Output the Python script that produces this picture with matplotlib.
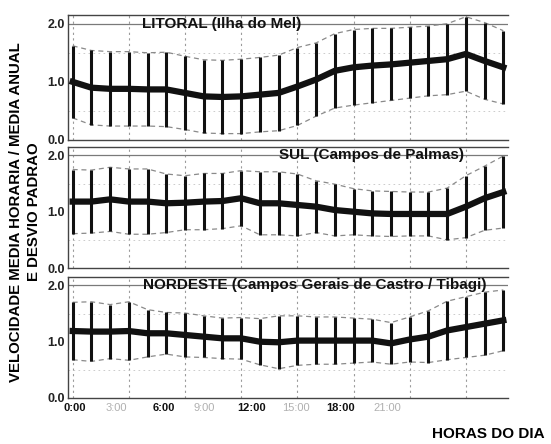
import numpy as np
import matplotlib
matplotlib.use("Agg")
import matplotlib.pyplot as plt

# DATA #######################################################################
hours = np.arange(24)

# hourly mean / annual mean
litoral_mean = [1.00, 0.90, 0.88, 0.88, 0.87, 0.87, 0.81, 0.75, 0.74, 0.75, 0.78, 0.81,
                0.92, 1.04, 1.19, 1.25, 1.28, 1.30, 1.33, 1.36, 1.39, 1.48, 1.36, 1.25]
litoral_sd = [0.62, 0.64, 0.64, 0.64, 0.63, 0.64, 0.63, 0.63, 0.63, 0.64, 0.64, 0.65,
              0.67, 0.63, 0.64, 0.65, 0.64, 0.62, 0.61, 0.60, 0.61, 0.64, 0.66, 0.63]

sul_mean = [1.18, 1.18, 1.22, 1.18, 1.18, 1.15, 1.16, 1.18, 1.19, 1.24, 1.15, 1.15,
            1.12, 1.09, 1.03, 1.00, 0.97, 0.96, 0.96, 0.96, 0.96, 1.09, 1.24, 1.35]
sul_sd = [0.57, 0.56, 0.57, 0.58, 0.58, 0.52, 0.48, 0.50, 0.49, 0.49, 0.56, 0.56,
          0.55, 0.46, 0.46, 0.41, 0.40, 0.40, 0.39, 0.39, 0.46, 0.55, 0.57, 0.64]

nordeste_mean = [1.19, 1.18, 1.18, 1.19, 1.15, 1.15, 1.12, 1.09, 1.06, 1.06, 1.00, 0.99,
                 1.02, 1.02, 1.02, 1.02, 1.02, 0.97, 1.04, 1.09, 1.20, 1.26, 1.32, 1.38]
nordeste_sd = [0.51, 0.53, 0.48, 0.52, 0.42, 0.37, 0.39, 0.37, 0.36, 0.37, 0.41, 0.47,
               0.44, 0.42, 0.42, 0.40, 0.38, 0.37, 0.40, 0.46, 0.52, 0.54, 0.56, 0.54]

titles = ["LITORAL (Ilha do Mel)",
          "SUL (Campos de Palmas)",
          "NORDESTE (Campos Gerais de Castro / Tibagi)"]
title_x = [0.35, 0.69, 0.56]

xtick_labels = ["0:00", "3:00", "6:00", "9:00", "12:00", "15:00", "18:00", "21:00"]
# labels in the scan do not line up with the grid, keep their place
xtick_frac = [0.016, 0.109, 0.218, 0.309, 0.418, 0.518, 0.620, 0.725]
xtick_dark = [True, False, True, False, True, False, True, False]

ytick_vals = [0.0, 1.0, 2.0]
ytick_labels = ["0.0", "1.0", "2.0"]

# PLOT #######################################################################
plt.rcParams["font.family"] = ["Liberation Sans", "DejaVu Sans"]
plt.rcParams["font.weight"] = "bold"

fig = plt.figure(figsize=(5.51, 4.44), dpi=100)

W, H = 551.0, 444.0
left_px, right_px = 68, 508
# (bottom pixel of 0.0, top pixel of axes)
panels_px = [(140, 15), (268, 147), (398, 277)]

series = [(litoral_mean, litoral_sd),
          (sul_mean, sul_sd),
          (nordeste_mean, nordeste_sd)]

axes = []
for k, ((mean, sd), (bot, top)) in enumerate(zip(series, panels_px)):
    ax = fig.add_axes([left_px / W, 1 - bot / H,
                       (right_px - left_px) / W, (bot - top) / H])
    axes.append(ax)
    mean = np.array(mean)
    sd = np.array(sd)

    ax.set_xlim(-0.25, 23.25)
    ax.set_ylim(0, 2.15)

    # grid
    for h in range(0, 24, 3):
        ax.axvline(h, color="#9a9a9a", linestyle=(0, (2, 3)), linewidth=0.8, zorder=0)
    for yv in [0.5, 1.5]:
        ax.axhline(yv, color="#c4c4c4", linestyle=(0, (2, 4)), linewidth=0.6, zorder=0)
    ax.axhline(2.0, color="#7a7a7a", linewidth=0.9, zorder=0)

    # envelope
    ax.plot(hours, mean + sd, color="#8a8a8a", linestyle=(0, (4, 3)), linewidth=0.9, zorder=1)
    ax.plot(hours, mean - sd, color="#8a8a8a", linestyle=(0, (4, 3)), linewidth=0.9, zorder=1)

    # error bars
    ax.vlines(hours, mean - sd, mean + sd, color="#111111", linewidth=2.2, zorder=2)
    # mean line
    ax.plot(hours, mean, color="#111111", linewidth=4.5, solid_joinstyle="round", zorder=3)

    ax.text(title_x[k], 0.93, titles[k], transform=ax.transAxes, ha="center", va="center",
            fontsize=11, fontweight="bold", color="#111111")

    ax.set_yticks(ytick_vals)
    ax.set_yticklabels(ytick_labels, fontsize=9, fontweight="bold", color="#222222")
    ax.tick_params(axis="y", length=0, pad=2)
    ax.set_xticks([])
    ax.spines["right"].set_visible(False)
    for s in ["top", "left", "bottom"]:
        ax.spines[s].set_color("#444444")
        ax.spines[s].set_linewidth(1.0)

# x labels under the last panel
ax = axes[-1]
for lab, fx, dark in zip(xtick_labels, xtick_frac, xtick_dark):
    ax.text(fx, -0.08, lab, transform=ax.transAxes, ha="center", va="center",
            fontsize=8, fontweight="bold" if dark else "normal",
            color="#111111" if dark else "#b0b0b0")

fig.text(16 / W, 1 - 212 / H, "VELOCIDADE MEDIA HORARIA / MEDIA ANUAL",
         rotation=90, ha="center", va="center", fontsize=10.8, fontweight="bold")
fig.text(34 / W, 1 - 212 / H, "E DESVIO PADRAO",
         rotation=90, ha="center", va="center", fontsize=10.8, fontweight="bold")
fig.text(488 / W, 1 - 434 / H, "HORAS DO DIA",
         ha="center", va="center", fontsize=11, fontweight="bold")

fig.savefig("out.png", dpi=100)
